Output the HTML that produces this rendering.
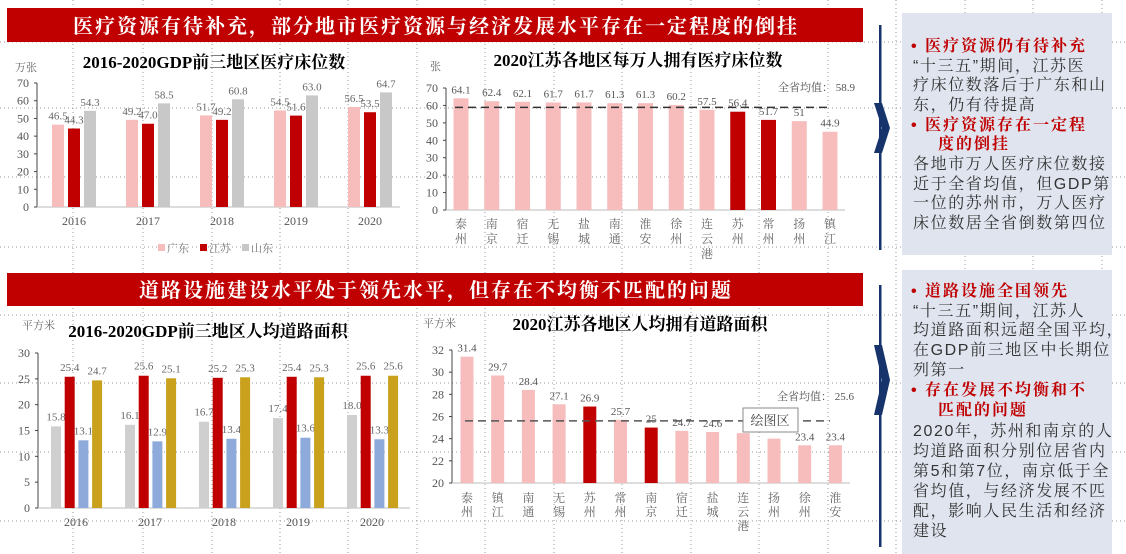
<!DOCTYPE html>
<html><head><meta charset="utf-8">
<style>
body{margin:0;background:#fff;}
svg{display:block;font-family:"Liberation Serif","Noto Serif CJK SC",serif;}
.rt{font-family:"Liberation Sans","Noto Serif CJK SC","Noto Sans CJK SC",sans-serif;}
</style></head>
<body>
<svg id="s" width="1126" height="554" viewBox="0 0 1126 554">
  <g id="grid"></g>
  <rect x="7" y="8" width="856" height="34" fill="#c00000"/>
  <text x="436" y="33" fill="#fff" font-size="20" font-weight="bold" text-anchor="middle" letter-spacing="2">医疗资源有待补充，部分地市医疗资源与经济发展水平存在一定程度的倒挂</text>
  <rect x="7" y="273" width="856" height="33" fill="#c00000"/>
  <text x="436" y="297" fill="#fff" font-size="20" font-weight="bold" text-anchor="middle" letter-spacing="2">道路设施建设水平处于领先水平，但存在不均衡不匹配的问题</text>

  <text x="214" y="68" font-size="17" font-weight="bold" text-anchor="middle">2016-2020GDP前三地区医疗床位数</text>
  <text x="15" y="71" font-size="11" fill="#666">万张</text>
  <text x="638" y="66" font-size="17" font-weight="bold" text-anchor="middle">2020江苏各地区每万人拥有医疗床位数</text>
  <text x="430" y="70" font-size="11" fill="#666">张</text>
  <text x="208" y="337" font-size="17" font-weight="bold" text-anchor="middle">2016-2020GDP前三地区人均道路面积</text>
  <text x="22" y="329" font-size="11" fill="#666">平方米</text>
  <text x="640" y="330" font-size="17" font-weight="bold" text-anchor="middle">2020江苏各地区人均拥有道路面积</text>
  <text x="423" y="327" font-size="11" fill="#666">平方米</text>

  <g id="c1"></g>
  <g id="c2"></g>
  <g id="c3"></g>
  <g id="c4"></g>

  <g font-size="11" fill="#777">
    <rect x="158" y="244" width="7" height="7" fill="#f7bcbc"/>
    <text x="167" y="252">广东</text>
    <rect x="200" y="244" width="7" height="7" fill="#c00000"/>
    <text x="209" y="252">江苏</text>
    <rect x="242" y="244" width="7" height="7" fill="#c8c8c8"/>
    <text x="251" y="252">山东</text>
  </g>

  <text x="778" y="91" font-size="11" fill="#555">全省均值： 58.9</text>
  <text x="777" y="400" font-size="11" fill="#555">全省均值： 25.6</text>
  <g>
    <rect x="743" y="408" width="55" height="24" fill="#fff" stroke="#888"/>
    <text x="770" y="425" font-size="13" text-anchor="middle" fill="#444" class="rt">绘图区</text>
  </g>

  <rect x="902" y="13" width="210" height="242" fill="#dfe4ef"/>
  <rect x="902" y="270" width="210" height="284" fill="#dfe4ef"/>
  <g fill="#17336b">
    <rect x="879" y="25" width="2.5" height="225"/>
    <polygon points="874,103 882,103 890,128 882,153 874,153 882,128"/>
    <rect x="879" y="285" width="2.5" height="262"/>
    <polygon points="874,345 882,345 890,380 882,415 874,415 882,380"/>
  </g>
  <g class="rt" font-size="16" fill="#333" letter-spacing="1.6">
    <text x="911" y="51" fill="#c00000" font-weight="bold" letter-spacing="2">•   医疗资源仍有待补充</text>
    <text x="913" y="71">“十三五”期间，江苏医</text>
    <text x="913" y="90">疗床位数落后于广东和山</text>
    <text x="913" y="110">东，仍有待提高</text>
    <text x="911" y="130" fill="#c00000" font-weight="bold" letter-spacing="2">•   医疗资源存在一定程</text>
    <text x="938" y="149" fill="#c00000" font-weight="bold" letter-spacing="2">度的倒挂</text>
    <text x="913" y="169">各地市万人医疗床位数接</text>
    <text x="913" y="189">近于全省均值，但GDP第</text>
    <text x="913" y="208">一位的苏州市，万人医疗</text>
    <text x="913" y="228">床位数居全省倒数第四位</text>
    <text x="911" y="296" fill="#c00000" font-weight="bold" letter-spacing="2">•   道路设施全国领先</text>
    <text x="913" y="316">“十三五”期间，江苏人</text>
    <text x="913" y="335">均道路面积远超全国平均，</text>
    <text x="913" y="355">在GDP前三地区中长期位</text>
    <text x="913" y="375">列第一</text>
    <text x="911" y="395" fill="#c00000" font-weight="bold" letter-spacing="2">•   存在发展不均衡和不</text>
    <text x="938" y="415" fill="#c00000" font-weight="bold" letter-spacing="2">匹配的问题</text>
    <text x="913" y="436">2020年，苏州和南京的人</text>
    <text x="913" y="456">均道路面积分别位居省内</text>
    <text x="913" y="476">第5和第7位，南京低于全</text>
    <text x="913" y="496">省均值，与经济发展不匹</text>
    <text x="913" y="516">配，影响人民生活和经济</text>
    <text x="913" y="536">建设</text>
  </g>
</svg>
<script>
const NS="http://www.w3.org/2000/svg";
const years=["2016","2017","2018","2019","2020"];
const bedsGuangdong=[46.5,49.2,51.7,54.5,56.5];
const bedsJiangsu=[44.3,47.0,49.2,51.6,53.5];
const bedsShandong=[54.3,58.5,60.8,63.0,64.7];
const c1Ticks=[0,10,20,30,40,50,60,70];

const cities2=["泰州","南京","宿迁","无锡","盐城","南通","淮安","徐州","连云港","苏州","常州","扬州","镇江"];
const bedsPer10k=[64.1,62.4,62.1,61.7,61.7,61.3,61.3,60.2,57.5,56.4,51.7,51,44.9];
const bedsLabels=["64.1","62.4","62.1","61.7","61.7","61.3","61.3","60.2","57.5","56.4","51.7","51","44.9"];
const bedsAvg=58.9;
const c2Highlight=["苏州","常州"];
const c2Ticks=[0,10,20,30,40,50,60,70];

const roadGuangdong=[15.8,16.1,16.7,17.4,18.0];
const roadJiangsu=[25.4,25.6,25.2,25.4,25.6];
const roadNational=[13.1,12.9,13.4,13.6,13.3];
const roadShandong=[24.7,25.1,25.3,25.3,25.6];
const c3Ticks=[0,5,10,15,20,25,30];

const cities4=["泰州","镇江","南通","无锡","苏州","常州","南京","宿迁","盐城","连云港","扬州","徐州","淮安"];
const roadPerCap=[31.4,29.7,28.4,27.1,26.9,25.7,25,24.7,24.6,24.5,24.0,23.4,23.4];
const roadLabels=["31.4","29.7","28.4","27.1","26.9","25.7","25","24.7","24.6","","","23.4","23.4"];
const roadAvg=25.6;
const c4Highlight=["苏州","南京"];
const c4Ticks=[20,22,24,26,28,30,32];

function mk(tag,attrs,parent,txt){const e=document.createElementNS(NS,tag);for(const k in attrs)e.setAttribute(k,attrs[k]);if(txt!==undefined)e.textContent=txt;parent.appendChild(e);return e;}

const grid=document.getElementById('grid');
[73,143,212,280,348,417,485,554,622,691,759,828,896,965,1033,1102].forEach(x=>{
  const l=mk('line',{x1:x,y1:0,x2:x,y2:554,stroke:'#9a9a9a','stroke-width':1,'stroke-dasharray':'1,3'},grid);
  
  
});
[42,108,177,247,315,383,452,521].forEach(y=>{
  const l=mk('line',{x1:0,y1:y,x2:1126,y2:y,stroke:'#9a9a9a','stroke-width':1,'stroke-dasharray':'1,3'},grid);
  
  
});

function axes(g,x0,x1,yTop,yBot,vmin,vmax,ticks,name){
  const ys=v=>yBot-(v-vmin)/(vmax-vmin)*(yBot-yTop);
  const ax=mk('line',{x1:x0,y1:yTop,x2:x0,y2:yBot,stroke:'#444'},g);
  
  
  const bx=mk('line',{x1:x0,y1:yBot,x2:x1,y2:yBot,stroke:'#bbb'},g);
  
  
  ticks.forEach(t=>{
    const tl=mk('line',{x1:x0-3,y1:ys(t),x2:x0,y2:ys(t),stroke:'#444'},g);
    
    
    const tx=mk('text',{x:x0-8,y:ys(t)+4,'font-size':12,fill:'#555','text-anchor':'end'},g,String(t));
    
    
  });
  return ys;
}

(function(){
  const g=document.getElementById('c1');
  const ys=axes(g,37,400,83,207,0,70,c1Ticks,'chart1');
  const series=[[bedsGuangdong,'#f7bcbc'],[bedsJiangsu,'#c00000'],[bedsShandong,'#c8c8c8']];
  years.forEach((yr,i)=>{
    const cx=74+i*74;
    series.forEach((s,j)=>{
      const v=s[0][i],x=cx-22+j*16;
      const r=mk('rect',{x:x,y:ys(v),width:12,height:ys(0)-ys(v),fill:s[1]},g);
      
      
      const t=mk('text',{x:x+6,y:ys(v)-5,'font-size':11,fill:'#666','text-anchor':'middle'},g,v.toFixed(1));
      
      
    });
    const yl=mk('text',{x:cx,y:225,'font-size':12,fill:'#555','text-anchor':'middle'},g,yr);
    
    
  });
})();

(function(){
  const g=document.getElementById('c2');
  const ys=axes(g,446,845,88,210,0,70,c2Ticks,'chart2');
  cities2.forEach((c,i)=>{
    const cx=461+i*30.75,v=bedsPer10k[i];
    const r=mk('rect',{x:cx-7.5,y:ys(v),width:15,height:ys(0)-ys(v),fill:c2Highlight.includes(c)?'#c00000':'#f7bcbc'},g);
    
    
    const t=mk('text',{x:cx,y:ys(v)-5,'font-size':11,fill:'#555','text-anchor':'middle'},g,bedsLabels[i]);
    
    
    [...c].forEach((ch,k)=>{
      const l=mk('text',{x:cx,y:228+k*15,'font-size':12,fill:'#666','text-anchor':'middle',class:'rt'},g,ch);
      
      
    });
  });
  const a=mk('line',{x1:455,y1:ys(bedsAvg),x2:830,y2:ys(bedsAvg),stroke:'#333','stroke-width':1.5,'stroke-dasharray':'8,5'},g);
  
  
})();

(function(){
  const g=document.getElementById('c3');
  const ys=axes(g,38,410,353,508,0,30,c3Ticks,'chart3');
  const series=[[roadGuangdong,'#cfcfcf'],[roadJiangsu,'#c00000'],[roadNational,'#8eaadb'],[roadShandong,'#c9a11c']];
  years.forEach((yr,i)=>{
    const cx=76+i*74;
    series.forEach((s,j)=>{
      const v=s[0][i],x=cx-25+j*13.7;
      const r=mk('rect',{x:x,y:ys(v),width:10,height:ys(0)-ys(v),fill:s[1]},g);
      
      
      const t=mk('text',{x:x+5,y:ys(v)-6,'font-size':11,fill:'#666','text-anchor':'middle'},g,v.toFixed(1));
      
      
    });
    const yl=mk('text',{x:cx,y:526,'font-size':12,fill:'#555','text-anchor':'middle'},g,yr);
    
    
  });
})();

(function(){
  const g=document.getElementById('c4');
  const ys=axes(g,452,850,350,483,20,32,c4Ticks,'chart4');
  cities4.forEach((c,i)=>{
    const cx=467+i*30.7,v=roadPerCap[i];
    const r=mk('rect',{x:cx-6.5,y:ys(v),width:13,height:ys(20)-ys(v),fill:c4Highlight.includes(c)?'#c00000':'#f7bcbc'},g);
    
    
    if(roadLabels[i]){
      const t=mk('text',{x:cx,y:ys(v)-5,'font-size':11,fill:'#555','text-anchor':'middle'},g,roadLabels[i]);
      
      
    }
    [...c].forEach((ch,k)=>{
      const l=mk('text',{x:cx,y:502+k*14,'font-size':12,fill:'#666','text-anchor':'middle',class:'rt'},g,ch);
      
      
    });
  });
  const a=mk('line',{x1:465,y1:ys(roadAvg),x2:830,y2:ys(roadAvg),stroke:'#555','stroke-width':1.5,'stroke-dasharray':'8,5'},g);
  
  
})();
</script>
</body></html>
